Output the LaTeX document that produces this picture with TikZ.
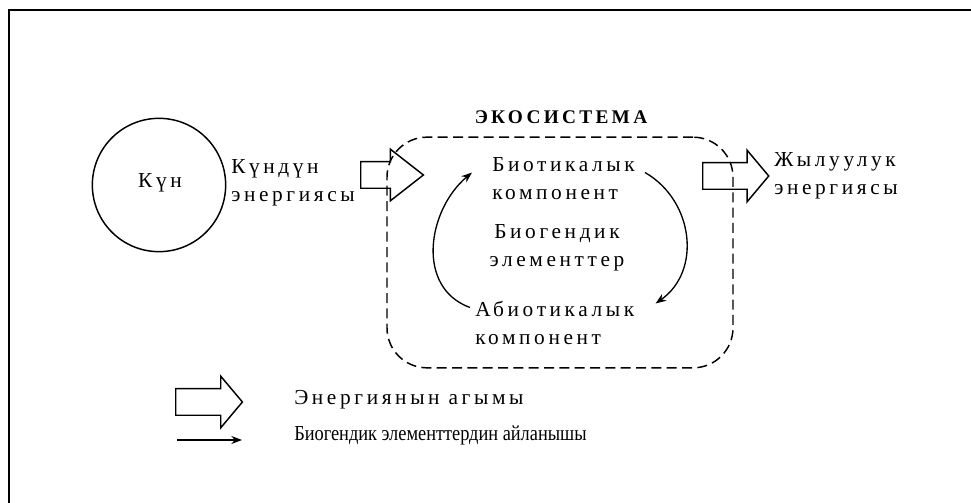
\documentclass[tikz,border=0pt]{standalone}
\usepackage{fontspec}
\setmainfont{Liberation Serif}[LetterSpace=17]
\newfontfamily\tightfont{Liberation Serif}[FakeStretch=0.86]
\usetikzlibrary{shapes.arrows,arrows.meta,calc}

\begin{document}
\begin{tikzpicture}[x=0.75pt,y=0.75pt,
  every node/.style={font=\fontsize{16}{21}\selectfont},
  lbl/.style={align=left,inner sep=0pt,anchor=west},
  blockarrow/.style={single arrow,draw,line width=1.1pt,inner xsep=0pt,inner ysep=9.4pt,
    single arrow head extend=9.4pt,single arrow tip angle=100,anchor=tail},
  cyc/.style={line width=1pt,-{Stealth[length=8pt,width=6pt]}}]
\useasboundingbox (0,0) rectangle (971,503);
% frame
\draw[line width=2.2pt] (9,0) -- (9,493);
\draw[line width=1.2pt] (8,493) -- (971,493);
% sun
\node(sun) at (159,318)[circle,draw,line width=1.1pt,minimum size=100pt,inner sep=0pt]{};
\node(sunt) at (160,320){Күн};
\node(sunlbl) at (231,320)[lbl]{Күндүн\\энергиясы};
\node(inarr) at (360,328)[blockarrow,minimum height=47pt,single arrow tip angle=76]{};
% ecosystem
\node(eco) at (560,250.5)[draw,dash pattern=on 7.5pt off 4pt,line width=1.1pt,
  rounded corners=30pt,minimum width=259.5pt,minimum height=173pt]{};
\node(ecolbl) at (561,386){\fontsize{14.5}{18}\selectfont\bfseries ЭКОСИСТЕМА};
\node(bio) at (492,324.5)[lbl]{Биотикалык\\компонент};
\node(biog) at (557,255)[align=center,inner sep=0pt]{Биогендик\\элементтер};
\node(abio) at (475,180.5)[lbl]{Абиотикалык\\компонент};
\draw[cyc] ($(abio.west)+(-5,15)$) to[out=160,in=220,looseness=1.1] ($(bio.west)+(-20,6)$);
\draw[cyc] ($(bio.east)+(10,6)$) to[out=-30,in=35,looseness=1.1] ($(abio.east)+(21,19)$);
% heat
\node(outarr) at (702,327)[blockarrow,minimum height=49.5pt]{};
\node(heatlbl) at (774,327)[lbl]{Жылуулук\\энергиясы};
% legend
\node(legarr) at (175,101)[blockarrow,minimum height=50pt]{};
\coordinate(l0) at (177,63);
\coordinate(l1) at (242,63);
\draw[cyc] (l0) -- (l1);
\node(leg1) at (294,103)[lbl]{Энергиянын агымы};
\node(leg2) at (294,68)[lbl]{\tightfont Биогендик элементтердин айланышы};
\end{tikzpicture}
\end{document}
